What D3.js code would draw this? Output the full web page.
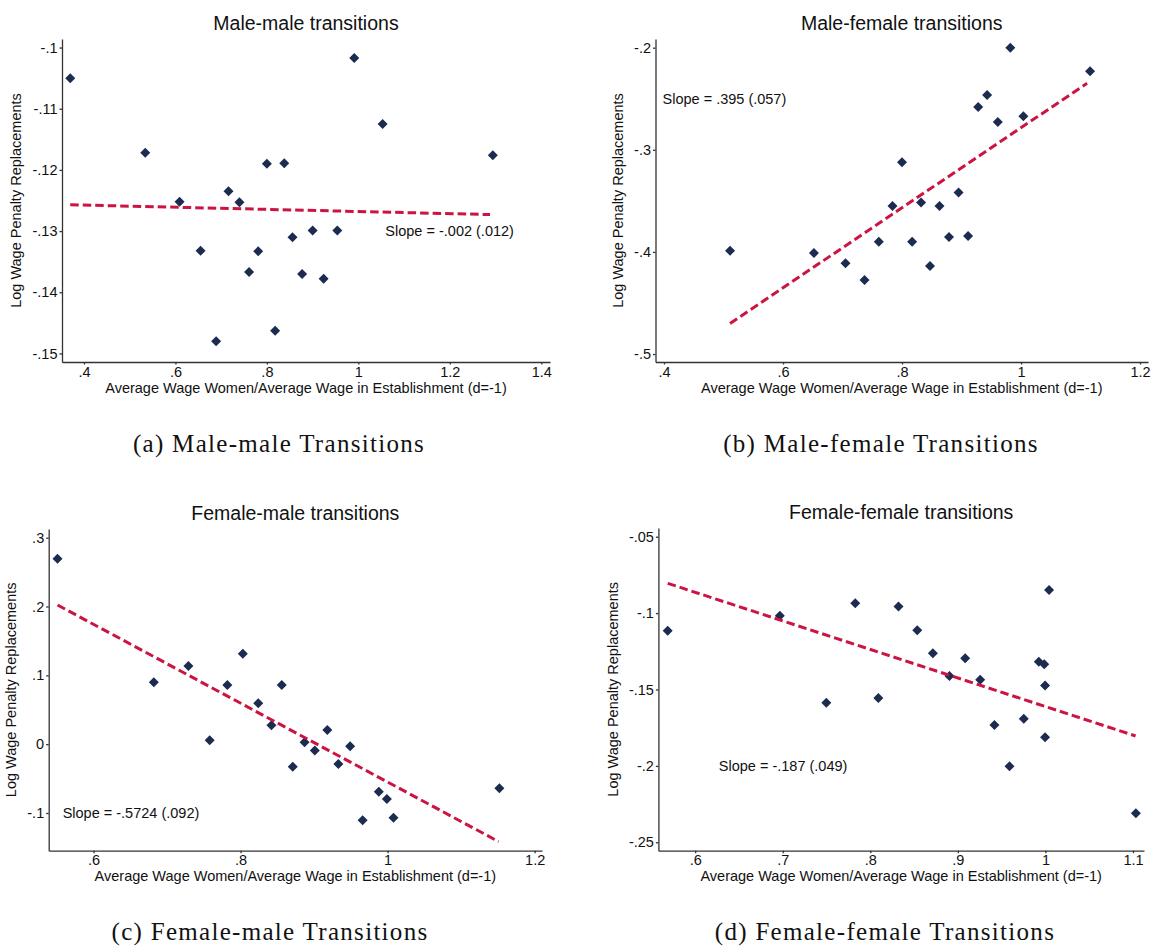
<!DOCTYPE html>
<html>
<head>
<meta charset="utf-8">
<script src="https://cdn.jsdelivr.net/npm/d3@7"></script>
<style>
  body { margin: 0; background: #fff; }
  text { font-family: "Liberation Sans", Arial, sans-serif; fill: #111; }
  .caption { font-family: "Liberation Serif", "Times New Roman", serif; }
</style>
</head>
<body>
<div id="chart"></div>
<script>
// panel titles and captions
var titles = ["Male-male transitions", "Male-female transitions", "Female-male transitions", "Female-female transitions"];
var captions = ["(a) Male-male Transitions", "(b) Male-female Transitions", "(c) Female-male Transitions", "(d) Female-female Transitions"];
var xTitle = "Average Wage Women/Average Wage in Establishment (d=-1)";
var yTitle = "Log Wage Penalty Replacements";

// (a) male-male
var mmX = [0.370, 0.534, 0.609, 0.655, 0.689, 0.716, 0.740, 0.761, 0.781, 0.800, 0.818, 0.838, 0.856, 0.877, 0.900, 0.924, 0.954, 0.991, 1.053, 1.294];
var mmY = [-0.1050, -0.1172, -0.1252, -0.1332, -0.1480, -0.1235, -0.1253, -0.1367, -0.1333, -0.1190, -0.1463, -0.1189, -0.1310, -0.1370, -0.1299, -0.1378, -0.1299, -0.1017, -0.1125, -0.1176];
var mmFit = [[0.370, -0.1257], [1.288, -0.1273]];
var mmSlope = "Slope = -.002 (.012)";
var mmSlopeAt = [1.059, -0.130];
var mmXTicks = [0.4, 0.6, 0.8, 1, 1.2, 1.4];
var mmYTicks = [-0.10, -0.11, -0.12, -0.13, -0.14, -0.15];

// (b) male-female
var mfX = [0.511, 0.652, 0.705, 0.737, 0.761, 0.784, 0.800, 0.817, 0.832, 0.847, 0.863, 0.879, 0.895, 0.911, 0.928, 0.943, 0.961, 0.982, 1.004, 1.116];
var mfY = [-0.3988, -0.4011, -0.4112, -0.4275, -0.3900, -0.3550, -0.3123, -0.3900, -0.3515, -0.4138, -0.3550, -0.3854, -0.3417, -0.3844, -0.2581, -0.2464, -0.2728, -0.2000, -0.2672, -0.2232];
var mfFit = [[0.511, -0.470], [1.111, -0.2349]];
var mfSlope = "Slope = .395 (.057)";
var mfSlopeAt = [0.3975, -0.2506];
var mfXTicks = [0.4, 0.6, 0.8, 1, 1.2];
var mfYTicks = [-0.2, -0.3, -0.4, -0.5];

// (c) female-male
var fmX = [0.551, 0.682, 0.729, 0.758, 0.782, 0.803, 0.824, 0.842, 0.856, 0.871, 0.887, 0.901, 0.918, 0.933, 0.949, 0.966, 0.988, 0.999, 1.008, 1.152];
var fmY = [0.2695, 0.0898, 0.1136, 0.0056, 0.0860, 0.1315, 0.0593, 0.0274, 0.0860, -0.0327, 0.0027, -0.0094, 0.0206, -0.0288, -0.0031, -0.1106, -0.0690, -0.0797, -0.1068, -0.0642];
var fmFit = [[0.551, 0.2022], [1.151, -0.1416]];
var fmSlope = "Slope = -.5724 (.092)";
var fmSlopeAt = [0.558, -0.1005];
var fmXTicks = [0.6, 0.8, 1, 1.2];
var fmYTicks = [0.3, 0.2, 0.1, 0, -0.1];

// (d) female-female
var ffX = [0.5686, 0.6967, 0.7498, 0.7828, 0.8092, 0.8322, 0.8536, 0.8715, 0.8904, 0.9084, 0.9255, 0.9418, 0.9590, 0.9753, 0.9925, 0.9987, 0.9996, 0.9996, 1.0042, 1.1033];
var ffY = [-0.1115, -0.1017, -0.1586, -0.0936, -0.1556, -0.0956, -0.1113, -0.1263, -0.1412, -0.1296, -0.1436, -0.1732, -0.2003, -0.1691, -0.1318, -0.1335, -0.1473, -0.1813, -0.0849, -0.2310];
var ffFit = [[0.5686, -0.0805], [1.103, -0.1804]];
var ffSlope = "Slope = -.187 (.049)";
var ffSlopeAt = [0.627, -0.2];
var ffXTicks = [0.6, 0.7, 0.8, 0.9, 1, 1.1];
var ffYTicks = [-0.05, -0.10, -0.15, -0.20, -0.25];

var svg = d3.select("#chart").append("svg")
  .attr("width", 1152)
  .attr("height", 948);

// stata style labels: drop the leading zero
function fmt(v) {
  var s = String(+v.toFixed(4));
  return s.replace(/^(-?)0\./, "$1.");
}

var panels = [
  { xs: mmX, ys: mmY, fit: mmFit, slope: mmSlope, slopeAt: mmSlopeAt, xt: mmXTicks, yt: mmYTicks,
    xd: [0.352, 1.419], yd: [-0.1514, -0.0986], l: 62, r: 550, t: 39, b: 362, ylab: 46, cap: [279, 452] },
  { xs: mfX, ys: mfY, fit: mfFit, slope: mfSlope, slopeAt: mfSlopeAt, xt: mfXTicks, yt: mfYTicks,
    xd: [0.3857, 1.2134], yd: [-0.5078, -0.1915], l: 655.5, r: 1148, t: 39, b: 362, ylab: 37.5, cap: [881, 452] },
  { xs: fmX, ys: fmY, fit: fmFit, slope: fmSlope, slopeAt: fmSlopeAt, xt: fmXTicks, yt: fmYTicks,
    xd: [0.539, 1.21], yd: [-0.1548, 0.3126], l: 48.7, r: 542, t: 529, b: 850.7, ylab: 37.7, cap: [270, 940] },
  { xs: ffX, ys: ffY, fit: ffFit, slope: ffSlope, slopeAt: ffSlopeAt, xt: ffXTicks, yt: ffYTicks,
    xd: [0.558, 1.1126], yd: [-0.2555, -0.0443], l: 658.4, r: 1144, t: 528, b: 850.7, ylab: 45.8, cap: [885, 940] }
];

panels.forEach(function(p, i) {
  var x = d3.scaleLinear().domain(p.xd).range([p.l, p.r]);
  var y = d3.scaleLinear().domain(p.yd).range([p.b, p.t]);
  var g = svg.append("g");

  var xAxis = g.append("g")
    .attr("transform", "translate(0," + p.b + ")")
    .call(d3.axisBottom(x).tickValues(p.xt).tickFormat(fmt).tickSize(2.5).tickSizeOuter(0).tickPadding(2));
  var yAxis = g.append("g")
    .attr("transform", "translate(" + p.l + ",0)")
    .call(d3.axisLeft(y).tickValues(p.yt).tickFormat(fmt).tickSize(2.5).tickSizeOuter(0).tickPadding(2));

  [xAxis, yAxis].forEach(function(a) {
    a.select(".domain").attr("stroke", "#333").attr("stroke-width", 1.3);
    a.selectAll(".tick line").attr("stroke", "#333").attr("stroke-width", 1.3);
    a.selectAll(".tick text").style("font-size", "14.5px").style("fill", "#111")
      .style("font-family", "'Liberation Sans', Arial, sans-serif");
  });

  g.append("text")
    .attr("x", (p.l + p.r) / 2)
    .attr("y", p.t - 16)
    .attr("dy", "0.35em")
    .attr("text-anchor", "middle")
    .style("font-size", "19.5px")
    .text(titles[i]);

  g.append("text")
    .attr("x", (p.l + p.r) / 2)
    .attr("y", p.b + 25.5)
    .attr("dy", "0.35em")
    .attr("text-anchor", "middle")
    .style("font-size", "14.5px")
    .text(xTitle);

  g.append("text")
    .attr("transform", "translate(" + (p.l - p.ylab) + "," + ((p.t + p.b) / 2) + ") rotate(-90)")
    .attr("dy", "0.35em")
    .attr("text-anchor", "middle")
    .style("font-size", "14.5px")
    .text(yTitle);

  var pts = p.xs.map(function(v, k) { return [v, p.ys[k]]; });

  g.selectAll("path.pt")
    .data(pts)
    .enter()
    .append("path")
    .attr("class", "pt")
    .attr("d", d3.symbol().type(d3.symbolSquare).size(50))
    .attr("transform", function(d) { return "translate(" + x(d[0]) + "," + y(d[1]) + ") rotate(45)"; })
    .attr("fill", "#1c2b50");

  g.append("path")
    .datum(p.fit)
    .attr("d", d3.line().x(function(d) { return x(d[0]); }).y(function(d) { return y(d[1]); }))
    .attr("fill", "none")
    .attr("stroke", "#cc1442")
    .attr("stroke-width", 3)
    .attr("stroke-dasharray", "8.5,4");

  g.append("text")
    .attr("x", x(p.slopeAt[0]))
    .attr("y", y(p.slopeAt[1]))
    .attr("dy", "0.35em")
    .style("font-size", "14.5px")
    .text(p.slope);

  // caption y is the baseline
  svg.append("text")
    .attr("class", "caption")
    .attr("x", p.cap[0])
    .attr("y", p.cap[1])
    .attr("text-anchor", "middle")
    .style("font-size", "25px")
    .style("letter-spacing", "1.3px")
    .text(captions[i]);
});
</script>
</body>
</html>
